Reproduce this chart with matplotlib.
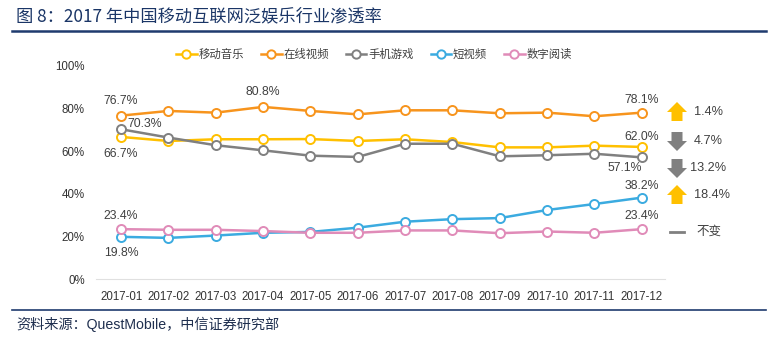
import matplotlib
matplotlib.use('Agg')
import matplotlib.pyplot as plt
from matplotlib.patches import Polygon
from matplotlib.lines import Line2D

plt.rcParams['font.family'] = ['Liberation Sans', 'Noto Sans CJK SC']

months = ['2017-01', '2017-02', '2017-03', '2017-04', '2017-05', '2017-06',
          '2017-07', '2017-08', '2017-09', '2017-10', '2017-11', '2017-12']
music = [66.7, 64.8, 65.6, 65.6, 65.7, 64.8, 65.6, 64.3, 61.8, 61.8, 62.6, 62.0]
video = [76.7, 78.9, 78.1, 80.8, 78.9, 77.3, 79.2, 79.2, 77.8, 78.1, 76.4, 78.1]
games = [70.3, 66.4, 62.8, 60.4, 57.9, 57.3, 63.5, 63.5, 57.6, 58.1, 58.8, 57.1]
short_video = [19.8, 19.3, 20.4, 21.7, 22.1, 24.1, 26.9, 28.1, 28.6, 32.4, 35.2, 38.2]
reading = [23.4, 23.1, 23.1, 22.5, 21.7, 21.7, 22.8, 22.8, 21.5, 22.3, 21.7, 23.4]

names = ['移动音乐', '在线视频', '手机游戏', '短视频', '数字阅读']
colors = ['#FFC000', '#F7941D', '#808080', '#3BABE0', '#E08BB8']
series = [music, video, games, short_video, reading]

changes = ['1.4%', '4.7%', '13.2%', '18.4%', '不变']
change_dir = ['up', 'down', 'down', 'up', 'flat']

W, H = 777, 339
fig = plt.figure(figsize=(W / 100, H / 100), dpi=100)


def fx(px):
    return px / W


def fy(py):
    return 1 - py / H


ax = fig.add_axes([fx(96), fy(279), fx(665) - fx(96), fy(66) - fy(279)])
x = list(range(len(months)))
for s, name, c in zip(series, names, colors):
    ax.plot(x, s, color=c, lw=1.8, marker='o', ms=6.5, mfc='white',
            mec=c, mew=1.4, label=name, zorder=3)

ax.set_xlim(-0.53, 11.49)
ax.set_ylim(0, 100)
ax.set_yticks([0, 20, 40, 60, 80, 100])
ax.set_yticklabels(['%d%%' % v for v in [0, 20, 40, 60, 80, 100]])
ax.set_xticks(x)
ax.set_xticklabels(months)
for side in ['top', 'right', 'left']:
    ax.spines[side].set_visible(False)
ax.spines['bottom'].set_color('#E0E0E0')
ax.tick_params(axis='both', length=0, labelsize=8.3, colors='#333333')
ax.tick_params(axis='x', pad=9)
ax.tick_params(axis='y', pad=8)

lab = dict(fontsize=8.8, color='#404040', ha='center', textcoords='offset points')
ax.annotate('%.1f%%' % video[0], (0, video[0]), xytext=(0, 6), va='bottom', **lab)
ax.annotate('%.1f%%' % games[0], (0, games[0]), xytext=(17, 3.5), va='center', **lab)
ax.annotate('%.1f%%' % music[0], (0, music[0]), xytext=(0, -8), va='top', **lab)
ax.annotate('%.1f%%' % reading[0], (0, reading[0]), xytext=(0, 5), va='bottom', **lab)
ax.annotate('%.1f%%' % short_video[0], (0, short_video[0]), xytext=(0, -7), va='top', **lab)
ax.annotate('%.1f%%' % video[3], (3, video[3]), xytext=(0, 6.5), va='bottom', **lab)
ax.annotate('%.1f%%' % video[11], (11, video[11]), xytext=(0, 5), va='bottom', **lab)
ax.annotate('%.1f%%' % music[11], (11, music[11]), xytext=(0, 3), va='bottom', **lab)
ax.annotate('%.1f%%' % games[11], (11, games[11]), xytext=(-12, -3), va='top', **lab)
ax.annotate('%.1f%%' % short_video[11], (11, short_video[11]), xytext=(0, 4), va='bottom', **lab)
ax.annotate('%.1f%%' % reading[11], (11, reading[11]), xytext=(0, 5), va='bottom', **lab)

# legend
handles = [Line2D([], [], color=c, lw=1.8, marker='o', ms=6, mfc='white', mec=c, mew=1.4)
           for c in colors]
fig.legend(handles, names, loc='center', bbox_to_anchor=(fx(374), fy(54)), ncol=5,
           frameon=False, fontsize=8.2, handlelength=1.8, handletextpad=0.15,
           columnspacing=1.5, labelcolor='#404040')

# right-side change markers
arrow_y = [112, 141, 168, 195, 232]
ax_x = 677
for yy, txt, d in zip(arrow_y, changes, change_dir):
    if d == 'flat':
        fig.add_artist(Line2D([fx(670), fx(684)], [fy(yy), fy(yy)], color='#808080', lw=2))
        fig.text(fx(696), fy(yy), txt, fontsize=9, color='#404040', va='center')
        continue
    col = '#FFC000' if d == 'up' else '#808080'
    sgn = -1 if d == 'up' else 1
    tip = yy + sgn * 10
    base = yy - sgn * 9
    neck = yy + sgn * 0
    pts = [(ax_x, tip), (ax_x - 10, neck), (ax_x - 5.5, neck), (ax_x - 5.5, base),
           (ax_x + 5.5, base), (ax_x + 5.5, neck), (ax_x + 10, neck)]
    fig.add_artist(Polygon([(fx(a), fy(b)) for a, b in pts], closed=True,
                           transform=fig.transFigure, color=col, lw=0))
    tx = 694 if txt != '13.2%' else 690
    fig.text(fx(tx), fy(yy), txt, fontsize=9.2, color='#404040', va='center')

# title and source
fig.text(fx(16), fy(16), '图 8：2017 年中国移动互联网泛娱乐行业渗透率', fontsize=12.4,
         color='#1A3566', va='center',
         family=['Noto Sans CJK SC', 'Liberation Sans'])
fig.add_artist(Line2D([fx(12), fx(766)], [fy(31), fy(31)], color='#1F3B6E', lw=1.8))
fig.add_artist(Line2D([fx(12), fx(766)], [fy(310), fy(310)], color='#1F3B6E', lw=1.2))
fig.text(fx(16), fy(324), '资料来源：QuestMobile，中信证券研究部', fontsize=10.2,
         color='#1F2F4F', va='center')

fig.savefig('out.png', dpi=100)
